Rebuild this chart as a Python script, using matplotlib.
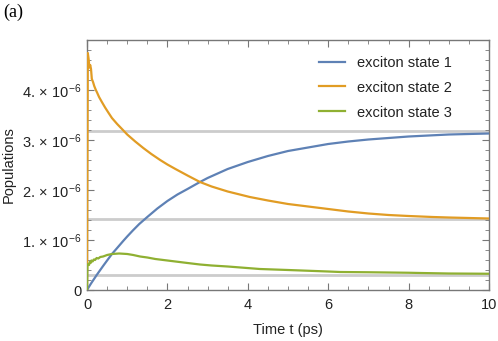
import matplotlib
matplotlib.use("Agg")
import matplotlib.pyplot as plt
import numpy as np
from matplotlib.ticker import MultipleLocator, FixedLocator

plt.rcParams['font.family'] = ['Liberation Sans', 'DejaVu Sans']
plt.rcParams['mathtext.fontset'] = 'custom'
plt.rcParams['mathtext.rm'] = 'Liberation Sans'
plt.rcParams['mathtext.it'] = 'Liberation Sans:italic'
plt.rcParams['mathtext.bf'] = 'Liberation Sans:bold'

SCALE = 1e-6

# exciton state 1 (blue)
t1 = [0.0, 0.1, 0.25, 0.4, 0.5, 0.62, 0.75, 0.9, 1.0, 1.14, 1.3, 1.5, 1.75, 2.0, 2.25, 2.5,
      2.81, 3.0, 3.25, 3.5, 3.75, 4.0, 4.5, 5.0, 5.5, 6.0, 6.5, 7.0, 7.5, 8.0, 8.5, 9.0, 9.5, 10.0]
p1 = [0.0, 0.13, 0.31, 0.48, 0.59, 0.72, 0.84, 0.98, 1.07, 1.19, 1.32, 1.46, 1.63, 1.78, 1.91, 2.02,
      2.16, 2.24, 2.33, 2.42, 2.49, 2.56, 2.68, 2.78, 2.85, 2.92, 2.97, 3.01, 3.04, 3.07, 3.09,
      3.11, 3.12, 3.13]

# exciton state 2 (orange)
t2 = [0.0, 0.02, 0.04, 0.06, 0.08, 0.10, 0.12, 0.15, 0.18, 0.22, 0.25, 0.30, 0.37, 0.45,
      0.53, 0.62, 0.75, 0.87, 1.0, 1.2, 1.4, 1.6, 1.82, 2.0, 2.2, 2.5, 2.81, 3.1, 3.5, 4.05,
      4.5, 5.0, 5.5, 6.0, 6.5, 7.0, 7.5, 8.0, 8.6, 9.0, 9.5, 10.0]
p2 = [0.0, 4.74, 4.62, 4.45, 4.50, 4.42, 4.22, 4.16, 4.08, 4.00, 3.95, 3.86, 3.76, 3.65,
      3.55, 3.44, 3.32, 3.22, 3.11, 2.97, 2.84, 2.72, 2.60, 2.51, 2.42, 2.29, 2.16, 2.07, 1.97,
      1.86, 1.79, 1.72, 1.67, 1.62, 1.57, 1.53, 1.50, 1.48, 1.46, 1.45, 1.44, 1.43]

# exciton state 3 (green)
t3 = [0.0, 0.01, 0.03, 0.05, 0.07, 0.09, 0.11, 0.14, 0.17, 0.20, 0.24, 0.28, 0.33, 0.40,
      0.5, 0.62, 0.8, 1.0, 1.15, 1.32, 1.5, 1.7, 1.95, 2.2, 2.5, 2.81, 3.1, 3.5, 3.9, 4.3,
      5.0, 5.5, 6.0, 6.3, 7.0, 8.0, 8.3, 9.0, 10.0]
p3 = [0.0, 0.50, 0.52, 0.50, 0.56, 0.54, 0.59, 0.57, 0.61, 0.60, 0.64, 0.63, 0.66, 0.67,
      0.70, 0.72, 0.73, 0.72, 0.70, 0.67, 0.65, 0.62, 0.595, 0.57, 0.54, 0.51, 0.49, 0.47, 0.445,
      0.42, 0.40, 0.385, 0.37, 0.36, 0.355, 0.345, 0.34, 0.33, 0.325]

# steady-state reference lines (gray)
steady = [3.18, 1.42, 0.30]

labels = ["exciton state 1", "exciton state 2", "exciton state 3"]
colors = ["#5E81B5", "#E19C24", "#8FB032"]

yticks = [0, 1, 2, 3, 4]
ytick_labels = ["0", r"1.$\,\times\,$10$^{-6}$", r"2.$\,\times\,$10$^{-6}$",
                r"3.$\,\times\,$10$^{-6}$", r"4.$\,\times\,$10$^{-6}$"]
xticks = [0, 2, 4, 6, 8, 10]

fig = plt.figure(figsize=(4.98, 3.41), dpi=100)
ax = fig.add_axes([87/498, 1 - 290/341, (489-87)/498, (290-40)/341])

for s in steady:
    ax.plot([0, 10], [s*SCALE, s*SCALE], color="#CCCCCC", lw=2.0, zorder=1, solid_capstyle='butt')

for t, p, c, lab in zip([t1, t2, t3], [p1, p2, p3], colors, labels):
    ax.plot(t, np.array(p)*SCALE, color=c, lw=1.6, label=lab, zorder=3)

ax.set_xlim(0, 10)
ax.set_ylim(0, 5.0*SCALE)

ax.xaxis.set_major_locator(FixedLocator(xticks))
ax.xaxis.set_minor_locator(MultipleLocator(0.5))
ax.yaxis.set_major_locator(FixedLocator([v*SCALE for v in yticks]))
ax.yaxis.set_minor_locator(MultipleLocator(0.2*SCALE))
ax.set_yticklabels(ytick_labels)
ax.set_xticklabels([str(x) for x in xticks])

frame_c = "#777777"
for sp in ax.spines.values():
    sp.set_color(frame_c)
    sp.set_linewidth(1.0)
ax.tick_params(which='both', direction='in', top=True, right=True, color=frame_c,
               labelsize=10.5, labelcolor="#222222")
ax.tick_params(which='major', length=5, width=0.8)
ax.tick_params(which='minor', length=3, width=0.6)
ax.tick_params(axis='x', pad=6)
ax.tick_params(axis='y', pad=4)

ax.set_xlabel("Time t (ps)", fontsize=10.5, color="#222222", labelpad=8)
ax.set_ylabel("Populations", fontsize=10.5, color="#222222")
ax.yaxis.set_label_coords(-71/402, 0.5)

leg = ax.legend(loc='upper right', frameon=False, fontsize=10.5, handlelength=1.8,
                labelspacing=0.75, bbox_to_anchor=(0.94, 0.99), handletextpad=0.8)
for txt in leg.get_texts():
    txt.set_color("#222222")

fig.text(3/498, 1 - 4/341, "(a)", family=['Liberation Serif', 'DejaVu Serif'],
         fontsize=13, va='top', ha='left')

fig.savefig("out.png", dpi=100)
